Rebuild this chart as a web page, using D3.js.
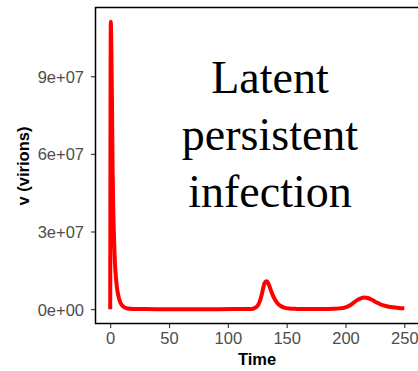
<!DOCTYPE html>
<html>
<head>
<meta charset="utf-8">
<script src="https://cdn.jsdelivr.net/npm/d3@7"></script>
<style>
  body { margin: 0; background: #fff; }
  svg { display: block; }
</style>
</head>
<body>
<div id="chart"></div>
<script>
// virion load over time
const time = [0, 0.2, 0.5, 1, 1.5, 2, 2.5, 3, 3.5, 4, 5, 6, 7, 8, 9, 10, 12, 14, 17, 20, 30, 50, 80, 105, 115,
  118, 120, 122, 124, 126, 128, 129, 130, 131, 132, 133, 134, 135, 136, 138, 140, 142, 145, 148, 152, 158, 165,
  175, 185, 190, 195, 200, 204, 207, 210, 213, 216, 219, 222, 226, 230, 235, 240, 245, 250];
const virions = [0, 6e7, 1.11e8, 1.0e8, 8e7, 5.6e7, 4.1e7, 3.1e7, 2.4e7, 1.8e7, 1.15e7, 7.5e6, 5e6, 3.3e6, 2.2e6, 1.5e6, 7e5, 3.5e5, 1.5e5, 7e4, 1e4, 2e3, 2e3, 5e3, 1e4,
  3e4, 8e4, 2.5e5, 7e5, 1.8e6, 4.2e6, 6e6, 8e6, 9.7e6, 1.06e7, 1.08e7, 1.03e7, 9.3e6, 8e6, 5.6e6, 3.7e6, 2.4e6, 1.2e6, 6e5, 2.5e5, 1e5, 5e4,
  4e4, 6e4, 1.2e5, 3e5, 7e5, 1.5e6, 2.5e6, 3.5e6, 4.2e6, 4.5e6, 4.3e6, 3.7e6, 2.7e6, 1.8e6, 1.1e6, 7e5, 4.5e5, 3e5];
const xTicks = [0, 50, 100, 150, 200, 250];
const yTicks = [0, 3e7, 6e7, 9e7];
const noteLines = ['Latent', 'persistent', 'infection'];

const W = 418, H = 371;
const panel = { left: 95.5, top: 7.5, right: 419, bottom: 323.5 };

const svg = d3.select('#chart').append('svg')
  .attr('width', W).attr('height', H);

const xPad = 250 * 0.05;
const yMax = d3.max(virions), yPad = yMax * 0.05;
const x = d3.scaleLinear().domain([-xPad, 250 + xPad]).range([panel.left, panel.right]);
const y = d3.scaleLinear().domain([-yPad, yMax + yPad]).range([panel.bottom, panel.top]);

const data = time.map((t, i) => ({ t, v: virions[i] }));

const font = '"Liberation Sans", Arial, Helvetica, sans-serif';

// axes
const xAxis = svg.append('g')
  .attr('transform', `translate(0,${panel.bottom})`)
  .call(d3.axisBottom(x).tickValues(xTicks).tickSize(4.5).tickPadding(4).tickFormat(d3.format('d')));
const yAxis = svg.append('g')
  .attr('transform', `translate(${panel.left},0)`)
  .call(d3.axisLeft(y).tickValues(yTicks).tickSize(4.5).tickPadding(7)
    .tickFormat(d => d === 0 ? '0e+00' : d3.format('.0e')(d).replace('e+7', 'e+07')));

[xAxis, yAxis].forEach(g => {
  g.select('.domain').remove();
  g.selectAll('.tick line').attr('stroke', '#333').attr('stroke-width', 1.1);
  g.selectAll('.tick text').attr('fill', '#4d4d4d')
    .style('font-family', font).style('font-size', '16.5px');
});
yAxis.selectAll('.tick text').attr('dy', '0.36em');

// line
svg.append('path')
  .datum(data)
  .attr('fill', 'none')
  .attr('stroke', '#ff0000')
  .attr('stroke-width', 4)
  .attr('stroke-linejoin', 'round')
  .attr('d', d3.line().x(d => x(d.t)).y(d => y(d.v)).curve(d3.curveMonotoneX));

// panel border
svg.append('rect')
  .attr('x', panel.left).attr('y', panel.top)
  .attr('width', panel.right - panel.left).attr('height', panel.bottom - panel.top)
  .attr('fill', 'none').attr('stroke', '#000').attr('stroke-width', 1.5);

// annotation
svg.append('g').selectAll('text')
  .data(noteLines).join('text')
  .attr('x', 270)
  .attr('y', (d, i) => 93 + i * 57)
  .attr('text-anchor', 'middle')
  .style('font-family', '"Liberation Serif", "Times New Roman", serif')
  .style('font-size', '46px')
  .attr('fill', '#000')
  .text(d => d);

// axis titles
svg.append('text')
  .attr('x', 257).attr('y', 365)
  .attr('text-anchor', 'middle')
  .style('font-family', font).style('font-size', '16.5px').style('font-weight', 'bold')
  .text('Time');
svg.append('text')
  .attr('transform', 'translate(29,166) rotate(-90)')
  .attr('text-anchor', 'middle')
  .style('font-family', font).style('font-size', '16.5px').style('font-weight', 'bold')
  .text('v (virions)');
</script>
</body>
</html>
